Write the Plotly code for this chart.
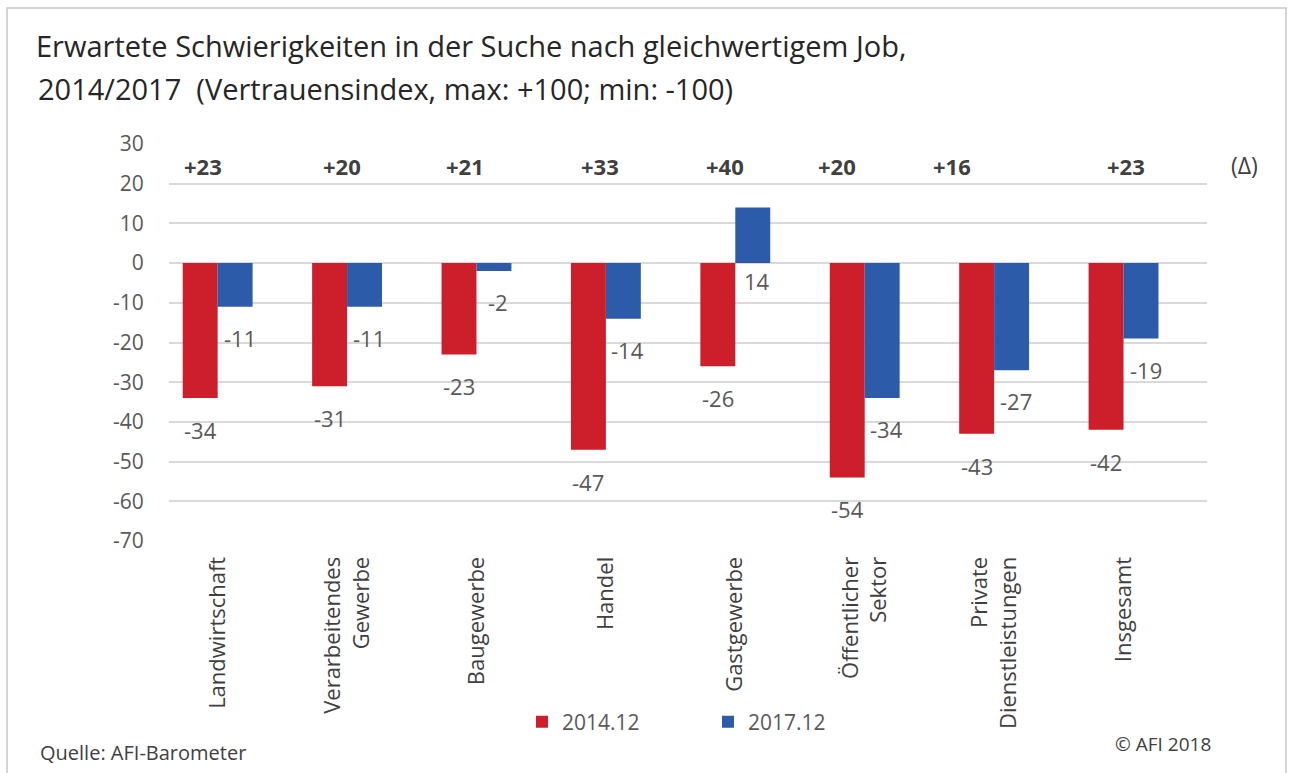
import plotly.graph_objects as go

categories = ["Landwirtschaft", "Verarbeitendes<br>Gewerbe", "Baugewerbe", "Handel",
              "Gastgewerbe", "Öffentlicher<br>Sektor", "Private<br>Dienstleistungen", "Insgesamt"]
values_2014 = [-34, -31, -23, -47, -26, -54, -43, -42]
values_2017 = [-11, -11, -2, -14, 14, -34, -27, -19]
series_names = ["2014.12", "2017.12"]
y_ticks = [30, 20, 10, 0, -10, -20, -30, -40, -50, -60, -70]
y_ticktext = [str(v) for v in y_ticks]

# styling: horizontal nudges (px) of the manually placed delta labels
delta_xshift = [-15, -5, -11, -6, -10, -28, -42, 2]

RED = "#CC1E2B"
BLUE = "#2C5BA9"
GRID = "#D9D9D9"
LABEL = "#595959"
DARK = "#404040"
FONT = "Open Sans"

W, H = 1289, 773
L, R, T, B = 169, 1289 - 1207, 144, 773 - 541
PW, PH = W - L - R, H - T - B

def px_x(p):
    return (p - L) / PW

def px_y(p):
    return (H - B - p) / PH

fig = go.Figure()
fig.add_trace(go.Bar(x=categories, y=values_2014, name=series_names[0],
                     marker=dict(color=RED, line=dict(width=0))))
fig.add_trace(go.Bar(x=categories, y=values_2017, name=series_names[1],
                     marker=dict(color=BLUE, line=dict(width=0))))

annotations = []
for cat, v in zip(categories, values_2014):
    annotations.append(dict(x=cat, y=min(v, 0), xref="x", yref="y", text=str(v),
                            showarrow=False, xshift=-17.5, yshift=-32 if v < 0 else -18,
                            font=dict(family=FONT, size=22, color=LABEL)))
for cat, v in zip(categories, values_2017):
    annotations.append(dict(x=cat, y=min(v, 0), xref="x", yref="y", text=str(v),
                            showarrow=False, xshift=22, yshift=-31 if v < 0 else -18,
                            font=dict(family=FONT, size=22, color=LABEL)))
for cat, a, b, dx in zip(categories, values_2014, values_2017, delta_xshift):
    d = b - a
    annotations.append(dict(x=cat, y=24.5, xref="x", yref="y",
                            text="<b>%+d</b>" % d, showarrow=False, xshift=dx,
                            font=dict(family=FONT, size=22, color=DARK)))
annotations.append(dict(x=px_x(1245), y=px_y(165), xref="paper", yref="paper",
                        xanchor="center", yanchor="middle",
                        text="(Δ)", showarrow=False,
                        font=dict(family=FONT, size=23, color=DARK)))
annotations.append(dict(x=px_x(36), y=px_y(88), xref="paper", yref="paper",
                        xanchor="left", yanchor="middle",
                        text="2014/2017  (Vertrauensindex, max: +100; min: -100)",
                        showarrow=False, font=dict(family=FONT, size=29, color="#262626")))
annotations.append(dict(x=px_x(38), y=px_y(752), xref="paper", yref="paper",
                        xanchor="left", yanchor="middle", text="Quelle: AFI-Barometer",
                        showarrow=False, font=dict(family=FONT, size=20, color=DARK)))
annotations.append(dict(x=px_x(1213), y=px_y(744), xref="paper", yref="paper",
                        xanchor="right", yanchor="middle", text="© AFI 2018",
                        showarrow=False, font=dict(family=FONT, size=19, color=DARK)))

fig.update_layout(
    width=W, height=H,
    margin=dict(l=L, r=R, t=T, b=B, autoexpand=False),
    paper_bgcolor="white", plot_bgcolor="white",
    title=dict(text="Erwartete Schwierigkeiten in der Suche nach gleichwertigem Job,",
               x=36 / W, xanchor="left", xref="container",
               y=1 - 47 / H, yanchor="middle",
               font=dict(family=FONT, size=29, color="#262626")),
    barmode="group", bargap=0.46, bargroupgap=0,
    showlegend=True,
    legend=dict(orientation="h", x=px_x(708), xanchor="center", y=px_y(722), yanchor="middle",
                font=dict(family=FONT, size=21, color=LABEL), itemwidth=30,
                entrywidth=141, entrywidthmode="pixels",
                bgcolor="rgba(0,0,0,0)"),
    annotations=annotations,
    shapes=[dict(type="rect", xref="paper", yref="paper",
                 x0=px_x(7), x1=px_x(1286), y0=px_y(780), y1=px_y(8),
                 line=dict(color="#C8C8C8", width=1.5), fillcolor="rgba(0,0,0,0)", layer="below")],
)
fig.update_xaxes(range=[-0.376, 7.645], showgrid=False, showline=False, zeroline=False,
                 tickangle=-90, ticks="outside", ticklen=6, tickcolor="rgba(0,0,0,0)",
                 tickfont=dict(family=FONT, size=22, color=DARK))
fig.update_yaxes(range=[-70, 30], tickvals=y_ticks, ticktext=y_ticktext,
                 showgrid=True, gridcolor=GRID, gridwidth=1.5,
                 zeroline=True, zerolinecolor=GRID, zerolinewidth=1.5, showline=False,
                 ticks="outside", ticklen=20, tickcolor="rgba(0,0,0,0)",
                 tickfont=dict(family=FONT, size=21, color=LABEL))

fig.write_html("out.html", config={"displayModeBar": False},
               post_script="document.body.style.margin='0';")
